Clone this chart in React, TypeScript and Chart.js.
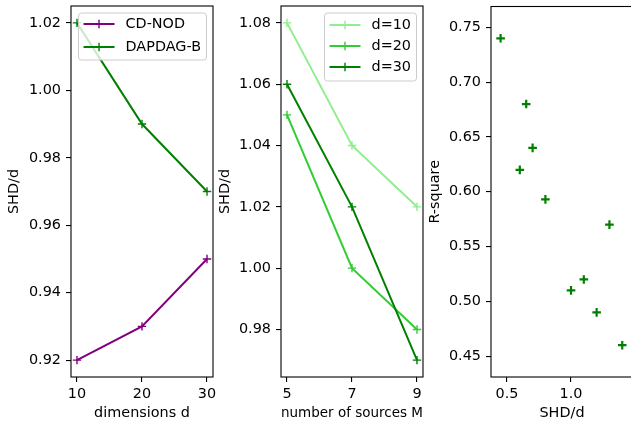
import React, { useEffect, useRef } from 'react';
import { Chart, registerables } from 'chart.js';

Chart.register(...registerables);

// ---------- data ----------
const dims = [10, 20, 30];
const cdnod = [0.92, 0.93, 0.95];
const dapdag = [1.02, 0.99, 0.97];

const sources = [5, 7, 9];
const d10 = [1.08, 1.04, 1.02];
const d20 = [1.05, 1.0, 0.98];
const d30 = [1.06, 1.02, 0.97];

const shdValues = [0.45, 0.65, 0.7, 0.6, 0.8, 1.3, 1.1, 1.0, 1.2, 1.4];
const rsqValues = [0.74, 0.68, 0.64, 0.62, 0.593, 0.57, 0.52, 0.51, 0.49, 0.46];

const p1XTicks = [10, 20, 30];
const p1YTicks = [0.92, 0.94, 0.96, 0.98, 1.0, 1.02];
const p2XTicks = [5, 7, 9];
const p2YTicks = [0.98, 1.0, 1.02, 1.04, 1.06, 1.08];
const p3XTicks = [0.5, 1.0];
const p3YTicks = [0.45, 0.5, 0.55, 0.6, 0.65, 0.7, 0.75];

const FONT = 'DejaVu Sans';
const FS = 14.4;

const framePlugin = {
  id: 'mplFrame',
  afterDatasetsDraw(chart: any) {
    const { ctx, chartArea } = chart;
    const { left, top, right, bottom } = chartArea;
    ctx.save();
    ctx.strokeStyle = '#000';
    ctx.lineWidth = 1.1;
    ctx.strokeRect(left, top, right - left, bottom - top);
    ctx.restore();
  },
};

const legendPlugin = {
  id: 'mplLegend',
  afterDraw(chart: any, _args: any, o: any) {
    if (!o || !o.items) return;
    const { ctx, chartArea } = chart;
    ctx.save();
    ctx.font = `${FS}px "${FONT}"`;
    const items = o.items as { label: string; color: string }[];
    const maxW = Math.max(...items.map((it) => ctx.measureText(it.label).width));
    const w = 5 + 42 + maxW + 5.5;
    const h = o.firstRow + o.rowGap * (items.length - 1) + o.lastPad;
    const x = chartArea.right - 6.5 - w;
    const y = chartArea.top + 7;
    const r = 3;
    ctx.beginPath();
    ctx.moveTo(x + r, y);
    ctx.lineTo(x + w - r, y);
    ctx.quadraticCurveTo(x + w, y, x + w, y + r);
    ctx.lineTo(x + w, y + h - r);
    ctx.quadraticCurveTo(x + w, y + h, x + w - r, y + h);
    ctx.lineTo(x + r, y + h);
    ctx.quadraticCurveTo(x, y + h, x, y + h - r);
    ctx.lineTo(x, y + r);
    ctx.quadraticCurveTo(x, y, x + r, y);
    ctx.closePath();
    ctx.fillStyle = 'rgba(255,255,255,0.8)';
    ctx.fill();
    ctx.strokeStyle = '#cccccc';
    ctx.lineWidth = 1;
    ctx.stroke();
    items.forEach((it, i) => {
      const ry = y + o.firstRow + o.rowGap * i;
      ctx.strokeStyle = it.color;
      ctx.lineWidth = 2;
      ctx.beginPath();
      ctx.moveTo(x + 5, ry);
      ctx.lineTo(x + 36, ry);
      ctx.stroke();
      const cx = x + 20.5;
      ctx.lineWidth = 1.4;
      ctx.beginPath();
      ctx.moveTo(cx, ry - 4.2);
      ctx.lineTo(cx, ry + 4.2);
      ctx.moveTo(cx - 4.2, ry);
      ctx.lineTo(cx + 4.2, ry);
      ctx.stroke();
      ctx.fillStyle = '#000';
      ctx.textBaseline = 'middle';
      ctx.textAlign = 'left';
      ctx.fillText(it.label, x + 47, ry);
    });
    ctx.restore();
  },
};

function makeAxis(
  axis: 'x' | 'y',
  min: number,
  max: number,
  ticks: number[],
  decimals: number,
  title: string,
  size: number,
  titlePad: number,
  tickPad: number
) {
  return {
    type: 'linear',
    min,
    max,
    afterBuildTicks: (scale: any) => {
      scale.ticks = ticks.map((v) => ({ value: v }));
    },
    afterFit: (scale: any) => {
      if (axis === 'x') scale.height = size;
      else scale.width = size;
      scale.paddingLeft = 0;
      scale.paddingRight = 0;
      scale.paddingTop = 0;
      scale.paddingBottom = 0;
    },
    grid: {
      display: true,
      drawOnChartArea: false,
      drawTicks: true,
      tickLength: 5,
      color: '#000',
      lineWidth: 1.1,
    },
    border: { display: false },
    ticks: {
      color: '#000',
      font: { family: FONT, size: FS },
      padding: tickPad,
      maxRotation: 0,
      autoSkip: false,
      callback: (v: any) => Number(v).toFixed(decimals),
    },
    title: {
      display: true,
      text: title,
      color: '#000',
      font: { family: FONT, size: FS },
      padding: axis === 'x' ? { top: 0, bottom: titlePad } : { top: titlePad, bottom: 0 },
    },
  };
}

function lineDs(label: string, xs: number[], ys: number[], color: string, order: number) {
  return {
    type: 'line',
    label,
    data: xs.map((x, i) => ({ x, y: ys[i] })),
    borderColor: color,
    backgroundColor: color,
    borderWidth: 2,
    pointStyle: 'cross',
    pointRadius: 4.2,
    pointBorderWidth: 1.4,
    pointBorderColor: color,
    pointBackgroundColor: color,
    fill: false,
    tension: 0,
    order,
  };
}

function ChartPanel({ config, left, width }: { config: any; left: number; width: number }) {
  const ref = useRef<HTMLCanvasElement | null>(null);
  useEffect(() => {
    if (!ref.current) return;
    const chart = new Chart(ref.current, config);
    return () => chart.destroy();
  }, []);
  return (
    <canvas
      ref={ref}
      width={width}
      height={423}
      style={{ position: 'absolute', left, top: 0, width, height: 423 }}
    />
  );
}

const commonOpts = (padding: any, scales: any, legend: any) => ({
  responsive: false,
  animation: false,
  events: [],
  layout: { padding },
  plugins: {
    legend: { display: false },
    tooltip: { enabled: false },
    mplLegend: legend,
  },
  scales,
});

// panel 1: canvas 0..226, plot area 71..213
const config1 = {
  type: 'line',
  data: {
    datasets: [
      lineDs('CD-NOD', dims, cdnod, '#800080', 0),
      lineDs('DAPDAG-B', dims, dapdag, '#008000', -1),
    ],
  },
  options: commonOpts(
    { left: 0, right: 13, top: 6, bottom: 0 },
    {
      x: makeAxis('x', 9.08, 30.92, p1XTicks, 0, 'dimensions d', 46, 1.4, 4),
      y: makeAxis('y', 0.915, 1.025, p1YTicks, 2, 'SHD/d', 71, 5.4, 5),
    },
    {
      items: [
        { label: 'CD-NOD', color: '#800080' },
        { label: 'DAPDAG-B', color: '#008000' },
      ],
      firstRow: 11,
      rowGap: 23,
      lastPad: 13,
    }
  ),
  plugins: [framePlugin, legendPlugin],
};

// panel 2: canvas 210..440, plot area 281..423
const config2 = {
  type: 'line',
  data: {
    datasets: [
      lineDs('d=10', sources, d10, '#90ee90', 0),
      lineDs('d=20', sources, d20, '#32cd32', -1),
      lineDs('d=30', sources, d30, '#008000', -2),
    ],
  },
  options: commonOpts(
    { left: 0, right: 17, top: 6, bottom: 0 },
    {
      x: makeAxis('x', 4.815, 9.185, p2XTicks, 0, 'number of sources M', 46, 1.4, 4),
      y: makeAxis('y', 0.9645, 1.0855, p2YTicks, 2, 'SHD/d', 71, 6.4, 5),
    },
    {
      items: [
        { label: 'd=10', color: '#90ee90' },
        { label: 'd=20', color: '#32cd32' },
        { label: 'd=30', color: '#008000' },
      ],
      firstRow: 12,
      rowGap: 21,
      lastPad: 14,
    }
  ),
  plugins: [framePlugin, legendPlugin],
};

// panel 3: canvas 420..646 (clipped at 631), plot area 491..633
const config3 = {
  type: 'scatter',
  data: {
    datasets: [
      {
        label: 'scatter',
        data: shdValues.map((x, i) => ({ x, y: rsqValues[i] })),
        pointStyle: 'cross',
        pointRadius: 4.3,
        pointBorderWidth: 2.2,
        borderColor: '#008000',
        backgroundColor: '#008000',
        pointBorderColor: '#008000',
      },
    ],
  },
  options: commonOpts(
    { left: 0, right: 13, top: 6, bottom: 0 },
    {
      x: makeAxis('x', 0.375, 1.484, p3XTicks, 1, 'SHD/d', 46, 1.4, 4),
      y: makeAxis('y', 0.431, 0.769, p3YTicks, 2, 'R-square', 71, 6.4, 5),
    },
    null
  ),
  plugins: [framePlugin],
};

export default function App() {
  return (
    <div
      style={{
        position: 'absolute',
        left: 0,
        top: 0,
        width: 631,
        height: 423,
        background: '#fff',
        overflow: 'hidden',
      }}
    >
      <ChartPanel config={config1} left={0} width={226} />
      <ChartPanel config={config2} left={210} width={230} />
      <ChartPanel config={config3} left={420} width={226} />
    </div>
  );
}
